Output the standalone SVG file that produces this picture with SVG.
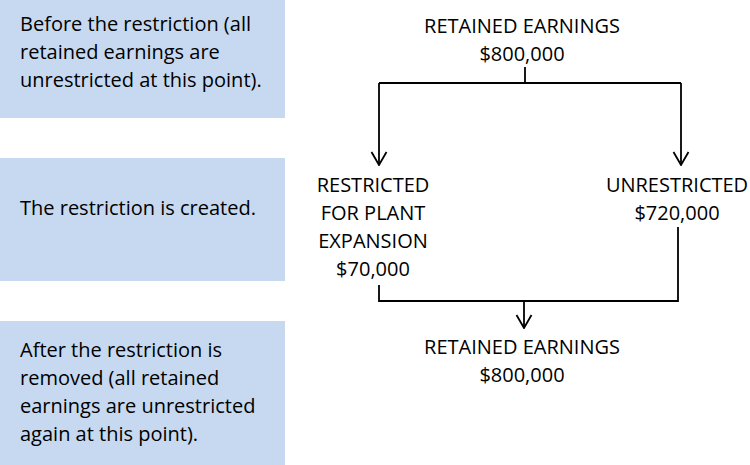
<svg xmlns="http://www.w3.org/2000/svg" width="750" height="465" viewBox="0 0 750 465">
<style>
.box{fill:#c6d9f1}
.t{font-family:"Open Sans","Liberation Sans",sans-serif;font-size:20px;fill:#000}
.c{text-anchor:middle}
.ln{stroke:#000;stroke-width:1.8;fill:none}
</style>
<defs>
<marker id="ah" viewBox="0 0 15 18" refX="14" refY="9" markerWidth="15" markerHeight="18" markerUnits="userSpaceOnUse" orient="auto">
<path d="M1,1.5 L14,9 L1,16.5" fill="none" stroke="#000" stroke-width="1.8"/>
</marker>
</defs>
<rect width="750" height="465" fill="#fff"/>
<g id="step-before">
<rect class="box" x="0" y="0" width="285" height="118"/>
<text class="t" x="20" y="31">Before the restriction (all</text>
<text class="t" x="20" y="59">retained earnings are</text>
<text class="t" x="20" y="87">unrestricted at this point).</text>
</g>
<g id="step-created">
<rect class="box" x="0" y="158" width="285" height="123"/>
<text class="t" x="20" y="215">The restriction is created.</text>
</g>
<g id="step-after">
<rect class="box" x="0" y="321" width="285" height="144"/>
<text class="t" x="20" y="357">After the restriction is</text>
<text class="t" x="20" y="385">removed (all retained</text>
<text class="t" x="20" y="413">earnings are unrestricted</text>
<text class="t" x="20" y="441">again at this point).</text>
</g>
<g id="re-top">
<text class="t c" x="522" y="33">RETAINED EARNINGS</text>
<text class="t c" x="522" y="61">$800,000</text>
</g>
<g id="restricted">
<text class="t c" x="373" y="192">RESTRICTED</text>
<text class="t c" x="373" y="220">FOR PLANT</text>
<text class="t c" x="373" y="248">EXPANSION</text>
<text class="t c" x="373" y="276">$70,000</text>
</g>
<g id="unrestricted">
<text class="t c" x="677" y="192">UNRESTRICTED</text>
<text class="t c" x="677" y="220">$720,000</text>
</g>
<g id="re-bottom">
<text class="t c" x="522" y="354">RETAINED EARNINGS</text>
<text class="t c" x="522" y="382">$800,000</text>
</g>
<g id="connectors">
<path class="ln" d="M525,67 V83"/>
<path class="ln" d="M379,83 H681"/>
<path class="ln" d="M379,83 V165" marker-end="url(#ah)"/>
<path class="ln" d="M681,83 V165" marker-end="url(#ah)"/>
<path class="ln" d="M379,285 V301 H678 V227"/>
<path class="ln" d="M524,301 V328" marker-end="url(#ah)"/>
</g>
</svg>
